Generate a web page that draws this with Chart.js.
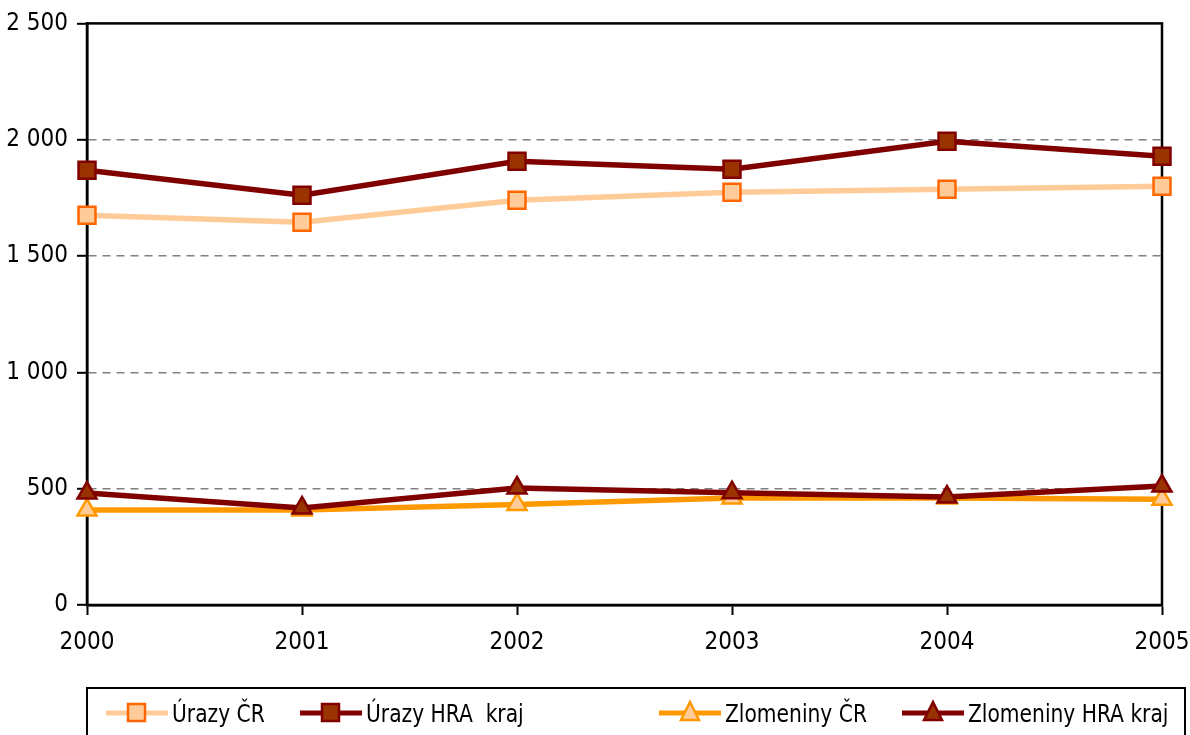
<!DOCTYPE html>
<html>
<head>
<meta charset="utf-8">
<script src="https://cdn.jsdelivr.net/npm/chart.js@4/dist/chart.umd.min.js"></script>
<style>
  html, body { margin: 0; padding: 0; background: #fff; overflow: hidden; }
  #wrap { position: relative; width: 1190px; height: 735px; }
  #legend {
    position: absolute; left: 86px; top: 687px; width: 1100px; height: 70px;
    border: 2px solid #000; box-sizing: border-box;
    font-family: 'Liberation Sans Narrow', 'Arial Narrow', 'DejaVu Sans Condensed', sans-serif;
    font-size: 25px; color: #000;
  }
  .item { position: absolute; top: 9px; height: 30px; display: flex; align-items: center; white-space: pre; }
  .item svg { margin-right: 4px; flex: none; }
  .item span { display: inline-block; transform: scaleX(0.9); transform-origin: left center; }
</style>
</head>
<body>
<div id="wrap">
  <canvas id="chart" width="1190" height="735"></canvas>
  <div id="legend"></div>
</div>
<script>
const years = ['2000', '2001', '2002', '2003', '2004', '2005'];
const urazyCR = [1675, 1645, 1740, 1774, 1787, 1800];
const urazyHRA = [1869, 1761, 1907, 1873, 1993, 1929];
const zlomCR = [408, 408, 432, 460, 460, 455];
const zlomHRA = [481, 417, 503, 483, 464, 511];
const yTicks = [0, 500, 1000, 1500, 2000, 2500];

const FONT = "'Liberation Sans Narrow', 'Arial Narrow', 'DejaVu Sans Condensed', sans-serif";

const series = [
  { label: 'Úrazy ČR', data: urazyCR, line: '#FFCC99', fill: '#FFCC99', edge: '#FF6600', style: 'rect', r: 12, order: 4, left: 18 },
  { label: 'Úrazy HRA  kraj', data: urazyHRA, line: '#800000', fill: '#993300', edge: '#800000', style: 'rect', r: 12, order: 2, left: 212 },
  { label: 'Zlomeniny ČR', data: zlomCR, line: '#FF9900', fill: '#FFCC99', edge: '#FF9900', style: 'triangle', r: 11, order: 3, left: 571 },
  { label: 'Zlomeniny HRA kraj', data: zlomHRA, line: '#800000', fill: '#993300', edge: '#800000', style: 'triangle', r: 11, order: 1, left: 814 }
];

function fmt(v) {
  return String(v).replace(/\B(?=(\d{3})+(?!\d))/g, ' ');
}

// frame around the plot area
const framePlugin = {
  id: 'frame',
  beforeDatasetsDraw(chart) {
    const { ctx, chartArea: a } = chart;
    ctx.save();
    ctx.strokeStyle = '#000';
    ctx.lineWidth = 2.5;
    ctx.strokeRect(a.left, a.top, a.right - a.left, a.bottom - a.top);
    ctx.restore();
  }
};

new Chart(document.getElementById('chart'), {
  type: 'line',
  data: {
    labels: years,
    datasets: series.map(s => ({
      label: s.label,
      data: s.data,
      borderColor: s.line,
      borderWidth: 5.5,
      backgroundColor: s.fill,
      pointBackgroundColor: s.fill,
      pointBorderColor: s.edge,
      pointBorderWidth: 2.5,
      pointStyle: s.style,
      pointRadius: s.r,
      tension: 0,
      order: s.order
    }))
  },
  options: {
    responsive: false,
    animation: false,
    layout: { padding: { top: 23, right: 0, left: 0, bottom: 0 } },
    plugins: { legend: { display: false }, tooltip: { enabled: false } },
    scales: {
      x: {
        offset: false,
        afterFit: s => { s.height = 130; s.paddingRight = 28; },
        grid: { drawOnChartArea: false, tickLength: 10, tickColor: '#000', tickWidth: 2 },
        border: { display: true, color: '#000', width: 2.5 },
        ticks: { color: '#000', font: { family: FONT, size: 24 }, padding: 13, maxRotation: 0, autoSkip: false }
      },
      y: {
        min: 0, max: 2500,
        afterFit: s => { s.width = 87; },
        afterBuildTicks: s => { s.ticks = yTicks.map(v => ({ value: v })); },
        grid: {
          color: c => (c.tick && (c.tick.value === 0 || c.tick.value === 2500)) ? 'rgba(0,0,0,0)' : '#808080',
          lineWidth: 1.6,
          tickLength: 10, tickColor: '#000', tickWidth: 2
        },
        border: { display: true, color: '#000', width: 2.5, dash: [8, 6] },
        ticks: { color: '#000', font: { family: FONT, size: 24 }, padding: 9, callback: v => fmt(v) }
      }
    }
  },
  plugins: [framePlugin]
});

// --- legend ---
function iconSvg(s) {
  let marker;
  if (s.style === 'rect') {
    marker = `<rect x="22" y="6" width="17" height="17" fill="${s.fill}" stroke="${s.edge}" stroke-width="2.5"/>`;
  } else {
    marker = `<polygon points="31,4 40,22 22,22" fill="${s.fill}" stroke="${s.edge}" stroke-width="2.5"/>`;
  }
  return `<svg width="62" height="30"><line x1="0" y1="15" x2="62" y2="15" stroke="${s.line}" stroke-width="5"/>${marker}</svg>`;
}

const legend = document.getElementById('legend');
series.forEach(s => {
  const el = document.createElement('div');
  el.className = 'item';
  el.style.left = s.left + 'px';
  el.innerHTML = iconSvg(s) + '<span>' + s.label + '</span>';
  legend.appendChild(el);
});
</script>
</body>
</html>
